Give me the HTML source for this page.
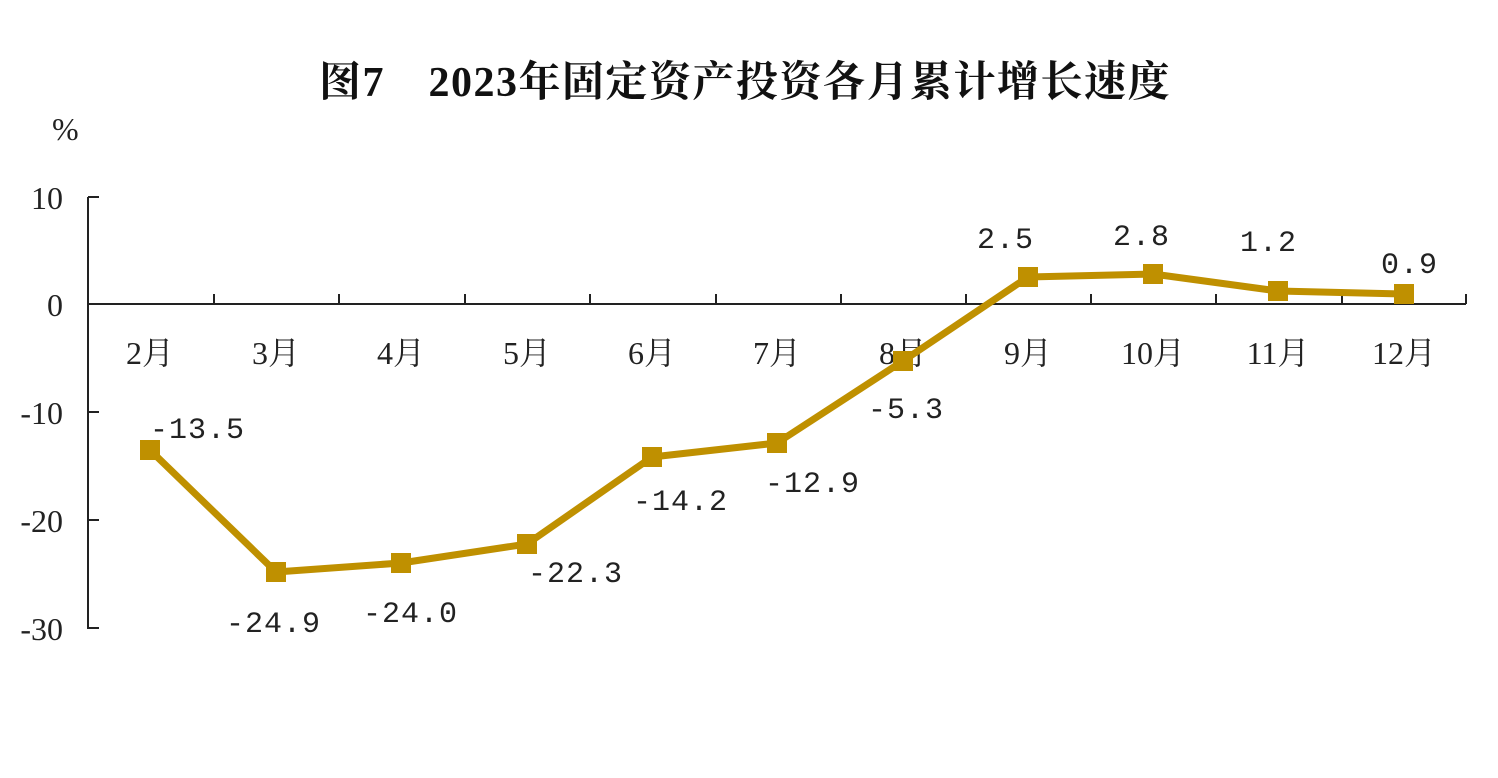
<!DOCTYPE html>
<html><head><meta charset="utf-8"><style>
body{margin:0;background:#fff;}
svg{display:block}
.m{font-family:"Liberation Mono","Noto Serif CJK SC",monospace;font-size:30px;fill:#222}
.c{font-family:"Liberation Serif","Noto Serif CJK SC",serif;font-size:32px;fill:#222}
</style></head><body>
<svg width="1498" height="778" viewBox="0 0 1498 778">
<text x="745" y="96" text-anchor="middle" font-family="Liberation Serif,'Noto Serif CJK SC',serif" font-weight="bold" font-size="42" letter-spacing="1.5" fill="#111">图7　2023年固定资产投资各月累计增长速度</text>
<text x="52" y="140" class="c" font-size="34">%</text>
<g stroke="#222" stroke-width="2" fill="none">
<line x1="88" y1="197" x2="88" y2="629"/>
<line x1="88" y1="304" x2="1466" y2="304"/>
<line x1="88" y1="197" x2="99" y2="197"/>
<line x1="88" y1="412" x2="99" y2="412"/>
<line x1="88" y1="520" x2="99" y2="520"/>
<line x1="88" y1="628" x2="99" y2="628"/>
<path d="M214 304v-10M339 304v-10M465 304v-10M590 304v-10M716 304v-10M841 304v-10M966 304v-10M1091 304v-10M1216 304v-10M1342 304v-10M1466 304v-10"/>
</g>
<g class="c" text-anchor="end">
<text x="63" y="209">10</text><text x="63" y="316">0</text><text x="63" y="424">-10</text><text x="63" y="532">-20</text><text x="63" y="640">-30</text>
</g>
<g class="c" text-anchor="middle">
<text x="150" y="364">2月</text><text x="276" y="364">3月</text><text x="401" y="364">4月</text><text x="527" y="364">5月</text><text x="652" y="364">6月</text><text x="777" y="364">7月</text><text x="903" y="364">8月</text><text x="1028" y="364">9月</text><text x="1153" y="364">10月</text><text x="1278" y="364">11月</text><text x="1404" y="364">12月</text>
</g>
<polyline fill="none" stroke="#BF9000" stroke-width="7" stroke-linejoin="round" points="150,450 276,572 401,563 527,544 652,457 777,443 903,361 1028,277 1153,274 1278,291 1404,294"/>
<g fill="#BF9000">
<rect x="140" y="440" width="20" height="20"/><rect x="266" y="562" width="20" height="20"/><rect x="391" y="553" width="20" height="20"/><rect x="517" y="534" width="20" height="20"/><rect x="642" y="447" width="20" height="20"/><rect x="767" y="433" width="20" height="20"/><rect x="893" y="351" width="20" height="20"/><rect x="1018" y="267" width="20" height="20"/><rect x="1143" y="264" width="20" height="20"/><rect x="1268" y="281" width="20" height="20"/><rect x="1394" y="284" width="20" height="20"/>
</g>
<g class="m" letter-spacing="1">
<text x="150" y="438">-13.5</text><text x="226" y="632">-24.9</text><text x="363" y="622">-24.0</text><text x="528" y="582">-22.3</text><text x="633" y="510">-14.2</text><text x="765" y="492">-12.9</text><text x="868" y="418">-5.3</text><text x="977" y="248">2.5</text><text x="1113" y="245">2.8</text><text x="1240" y="251">1.2</text><text x="1381" y="273">0.9</text>
</g>
</svg>
</body></html>
